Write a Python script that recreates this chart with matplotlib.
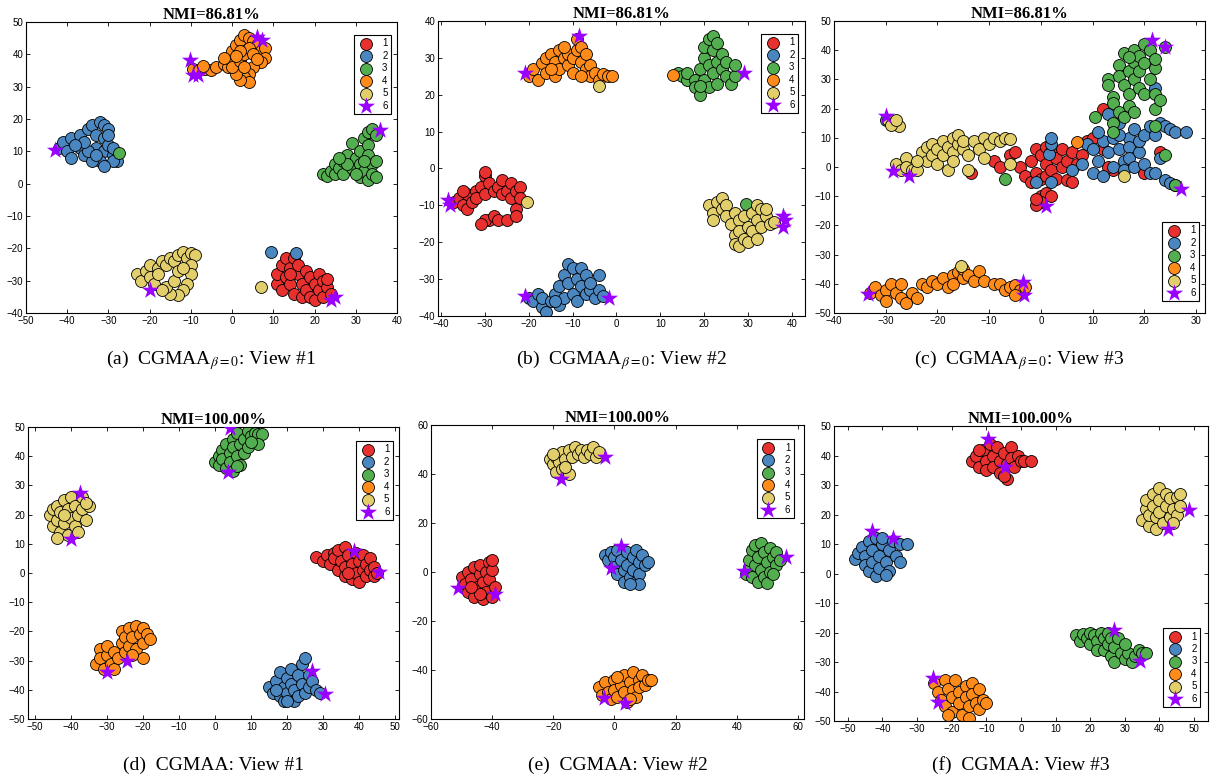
import matplotlib
matplotlib.use("Agg")
import matplotlib.pyplot as plt

# cluster colours (classes 1-5) and the star colour (class 6)
colors = ["#E8302F", "#4A86C0", "#52AE4E", "#FF8C1A", "#E2CF6B"]
star_color = "#9900FF"
class_names = ["1", "2", "3", "4", "5", "6"]

# ---- (a) CGMAA beta=0, view 1 ----
a1 = [(11,-31),(11,-28),(12,-25),(12,-33),(13,-23),(13,-29),(14,-26),(14,-31),(15,-23),(15,-34),
      (16,-28),(16,-25),(17,-31),(17,-35),(18,-27),(18,-33),(19,-29),(19,-35),(20,-31),(20,-36),
      (21,-28),(21,-33),(22,-30),(22,-35),(23,-32),(23,-29.5),(24,-34),(14,-28)]
a2 = [(-42,11),(-41,13),(-40,10),(-39,14),(-39,8),(-37,11),(-37,15),(-36,9),(-35,17),(-34,18),
      (-33,15),(-33,11),(-32,19),(-31,18),(-30,17),(-31,14),(-31,10),(-30,12),(-29,9),(-28,7),
      (-29,7),(-32,7),(-31,5.5),(-34,7),(-35,10),(-36,13),(-38,12),(-29,11),(-30,15),(-33,9),
      (9.5,-21),(15.5,-21.5)]
a3 = [(22,3),(23,2.5),(24,4),(25,6),(25,3),(26,5),(27,7),(27,3),(28,9),(29,12.5),(29,5),(30,8),
      (31,10),(31,6),(31,2),(32,14),(32,4),(33,16),(33,12),(33,9),(33,1),(34,17),(34,6),(34,3),
      (35,15),(35,7),(35,2),(30,3),(32,7),(28,6),(26,8),(-27.5,9.5)]
a4 = [(-9.5,35.5),(-8,35),(-6.5,35.5),(-5,35),(-7,36.5),(-4,36),(-2,37),(-1,36),(-1,39),(0,41),
      (1,43),(2,44.5),(3,46),(4,45),(5,44),(6,43),(7,41),(8,42),(8,39),(7,37.5),(5,36),(4,34),
      (3,33),(4,31.5),(2,32),(1,34),(0,36),(2,38),(3,40),(4,42),(5,40),(6,38.5),(2,41),(1,39.5),
      (3,36),(-2,39)]
a5 = [(-23,-28),(-22,-30),(-21,-27),(-20,-25),(-20,-29),(-19,-31),(-18,-26),(-17,-24),(-16,-25),
      (-15,-23),(-14,-24),(-13,-22),(-12,-21),(-11,-23),(-10,-21.5),(-9,-22),(-10,-25),(-10,-28),
      (-11,-31),(-12,-33),(-13,-34.5),(-15,-34),(-16,-32),(-14,-30),(-13,-27),(-12,-26),(-18,-28),
      (-17,-33),(7,-32)]
a6 = [(-43,10.5),(-10.2,38.2),(-9.4,33.5),(-8.2,33.5),(6,45.4),(7.3,44.5),(36,16.5),(-20,-33),
      (24,-36),(25,-35)]

# ---- (b) CGMAA beta=0, view 2 ----
b1 = [(-37,-9),(-36,-8),(-35,-10),(-34,-7),(-34,-11),(-33,-9),(-32,-6),(-32,-8),(-31,-5),(-30,-2),
      (-30,-1),(-30,-7),(-29,-4),(-29,-14),(-30,-14),(-28,-6),(-28,-13),(-27,-5),(-27,-14),(-26,-3),
      (-26,-7),(-25,-14),(-25,-6),(-24,-4),(-24,-8),(-23,-11),(-23,-6),(-22,-5),(-22,-8),(-31,-15),
      (-35,-6),(-23,-13)]
b2 = [(-20,-35),(-19,-36),(-18,-34),(-17,-37.5),(-17,-35),(-16,-39),(-15,-36),(-14,-34),(-13,-37),
      (-13,-32),(-12,-35),(-12,-29),(-11,-26),(-11,-31),(-10,-27),(-10,-34),(-9,-30),(-9,-36),
      (-8,-32),(-8,-27),(-7,-34),(-7,-29),(-6,-33),(-5,-35),(-4,-29),(-4,-33),(-3,-34.5),(-6,-31),
      (-14,-36)]
b3 = [(14,26),(15,25),(16,24),(16,26),(18,24),(18,22),(19,20),(19,27),(20,30),(20,33),
      (20,24),(21,35),(21,28),(21,22),(22,36),(22,32),(22,26),(23,34),(23,29),(23,23),(24,31),
      (24,27),(25,25),(25,29),(26,23),(27,25),(27,28),(19,22.5),(29.5,-9.5)]
b4 = [(-20,25),(-19,27),(-18,24),(-17,28.5),(-16,26),(-16,30),(-15,31),(-14,29),(-14,25),(-13,32),
      (-13,27),(-12,30),(-11,28),(-11,31),(-10,30),(-10,26),(-9,32),(-9,35),(-8,33),(-8,29),(-7,31),
      (-7,27),(-6,28),(-6,25),(-5,26),(-4,24),(-3,25.5),(-2,25),(-1,25),(-12,33),(-15,27),(-8,25),
      (13,25.3)]
b5 = [(21,-10),(22,-12),(22,-14),(23,-9),(24,-11),(24,-8),(25,-10),(25,-13),(26,-15),(27,-12),
      (27,-18),(27,-20.5),(28,-14),(28,-17),(28,-21),(29,-19),(29,-13),(30,-16),(30,-20),(31,-12),
      (31,-17),(32,-10),(32,-14),(33,-11),(33,-16),(34,-13),(35,-15),(36,-14.5),(32,-19),(34,-11),
      (-4,22.5),(-20.5,-9)]
b6 = [(-20.8,25.8),(-8.5,36),(29,26),(-38.5,-8.5),(-38,-10),(-20.8,-34.5),(-1.8,-35),(38,-13),
      (38.5,-14),(38,-16)]

# ---- (c) CGMAA beta=0, view 3 ----
c1 = [(-9,2),(-8,0),(-6,4),(-5,5),(-4,0),(-3,-3),(-2,-5),(-2,2),(-1,6),(-1,-2),(0,4),(0,-4),(1,7),
      (1,1),(1,-3),(2,-1),(2,5),(3,3),(3,-4),(4,0),(4,6),(5,2),(5,-4.5),(6,5),(6,-5),(7,1),(8,4),
      (9,9),(10,10),(12,6),(14,-1),(13,0),(-13.5,-2),(0,-10),(1,-9),(0,-12),(-1,-13),(2,-10),
      (-1,-11),(12,20),(20,-2),(23,5)]
c2 = [(-1,-5),(2,-5),(1.5,4.5),(2,8),(2,10),(6,-1),(8,1),(9,8),(10,-2),(10,6),(11,2),(12,-3),
      (12,9),(13,5),(13,18),(14,0),(14,10),(15,6),(15,15),(16,2),(16,-1),(17,10),(17,7),(17,3),
      (18,13),(18,0),(19,5),(19,9),(20,11),(20,1),(21,-2),(21,14),(22,-2),(22,11),(23,15),(24,14),
      (25,13),(26,12),(28,12),(23,3),(15,11),(11,12),(24,-4.5),(25,-5.5),(26,-6),(22,27),(-30,16)]
c3 = [(13,30),(14,24),(14,22),(14,15),(14,12),(15,19),(15,35),(15,31),(16,39),(16,17),(16,28),
      (17,33),(17,25),(17,21),(18,40),(18,36),(18,30),(18,19),(19,27),(19,38),(19,33),(20,42),
      (20,35.5),(20,25),(21,30),(21,40),(22,34),(22,20),(22,25),(23,23),(22,14),(13,28),(24,41),
      (17,37.5),(22,37),(24,4),(26,-6),(-7,-4),(10.5,17)]
c4 = [(-33,-43),(-32,-41),(-31,-44),(-30,-42),(-30,-46),(-29,-40),(-28,-43),(-27,-45),(-27,-40),
      (-26,-46.5),(-25,-43),(-24,-45),(-23,-40),(-22,-41),(-21,-39),(-20,-40),(-19,-38),(-18,-41),
      (-17,-37),(-17,-40),(-16,-36),(-15,-38),(-15,-35),(-14,-37),(-13,-39),(-12,-35.5),(-11,-39),
      (-9,-40),(-8,-40),(-7,-42),(-6,-41),(-5,-40.5),(-4,-42),(-5,-44),(-3,-41),(7,8.5)]
c5 = [(-29.5,16),(-28.5,15),(-27.5,14),(-29,14.5),(-28,16),(-28,1),(-27,-1),(-26,3),(-26,0),
      (-25,-1),(-24,-1),(-23,5),(-22,7),(-22,2),(-21,8),(-21,4),(-20,1),(-20,6),(-19,9),(-19,4),
      (-18,-1),(-18,7),(-17,10),(-17,5),(-17,2),(-16,8),(-16,11),(-15,6),(-15,9),(-14,4),(-14,-1),
      (-13,9),(-12,6),(-11,10),(-11,3),(-10,8),(-9,10),(-8,9),(-7,10),(-6,9.5),(-6,1),(-24,2),
      (-15.5,-34),(16,-3)]
c6 = [(-30,17.5),(-28.5,-1.5),(-25.5,-3),(1,-13.5),(21.5,43.5),(24,41),(27,-7.5),(-33.5,-43.5),
      (-3.5,-39.5),(-3.3,-44)]

# ---- (d) CGMAA, view 1 ----
d1 = [(28,5.5),(30,4),(31,6),(32,3),(33,7),(33,5),(34,1),(34,8),(35,4),(36,9),(36,2),(36,-1),
      (37,6),(38,3),(38,-2),(39,7),(39,0),(40,4),(40,-3),(41,6),(41,1),(42,3),(42,-1),(43,5),(43,1),
      (44,2),(44,-1),(45,0),(37,0)]
d2 = [(15,-39),(16,-41),(17,-37),(18,-42),(18,-34),(19,-39),(19,-44),(20,-36),(20,-41),(21,-33),
      (21,-38),(22,-44),(22,-40),(23,-35),(23,-42),(24,-31),(24,-38),(25,-29),(25,-41),(26,-35),
      (26,-39),(27,-37),(28,-40),(29,-41),(20,-44),(17,-40)]
d3 = [(0,38),(1,40),(1,37),(2,42),(2,39),(3,44),(3,36),(4,41),(4,38),(5,46),(5,35),(5,43),(6,40),
      (6,48),(7,44),(7,37),(8,46),(8,41),(9,48.5),(9,43),(10,47),(11,48),(12,47.5),(13,47.5),
      (12,44),(10,45),(6,36.5)]
d4 = [(-33,-31),(-32,-26),(-32,-29),(-31,-33),(-30,-28),(-30,-25),(-29,-31),(-28,-27),(-28,-33),
      (-27,-29),(-26,-24),(-26,-20),(-25,-27),(-25,-22),(-24,-19),(-24,-25),(-23,-22),(-22,-18),
      (-22,-26),(-21,-21),(-20,-19),(-20,-24),(-19,-21),(-18,-22.5),(-20,-29),(-23,-28)]
d5 = [(-46,20),(-45,22),(-45,16),(-44,23),(-44,18),(-43,14),(-43,21),(-42,25),(-42,17),(-41,22),
      (-41,13),(-40,26),(-40,19),(-39,23),(-39,16),(-38,20),(-38,14),(-37,26),(-37,22),(-36,18),
      (-35,23),(-36,24),(-44,12),(-42,20)]
d6 = [(4,49.5),(3.5,34.5),(-37.5,27.5),(-40,11.5),(38.5,7.5),(45.5,0.5),(-24.5,-30),(-30,-34),
      (27,-33.5),(30.5,-41.5)]

# ---- (e) CGMAA, view 2 ----
e1 = [(-50,-2),(-49,-5),(-48,0),(-48,-8),(-47,-3),(-46,2),(-46,-10),(-45,-6),(-44,-1),(-44,3),
      (-43,-11),(-43,-4),(-42,0),(-42,-8),(-41,4),(-41,-3),(-40,-10),(-40,1),(-39,-6),(-40,5),
      (-44,-9),(-47,-6)]
e2 = [(-3,7),(-2,5),(-1,8),(0,6),(0,2),(1,9),(1,-1),(2,5),(3,1),(3,-4),(4,8),(4,3),(5,-2),(6,6),
      (6,1),(7,9),(7,-4),(8,4),(8,-1),(9,7),(10,3),(11,4),(8,-5),(5,-5)]
e3 = [(43,-1),(44,2),(44,5),(45,9),(45,-2),(46,11),(46,3),(47,6),(47,-4),(48,12),(48,1),(49,8),
      (49,-2),(50,4),(50,-4.5),(51,10),(51,0),(52,6),(53,3),(53,8),(54,5),(52,-1)]
e4 = [(-5,-47),(-4,-50),(-3,-45),(-2,-49),(-1,-52),(0,-44),(0,-48),(1,-51),(2,-46),(3,-42),(3,-49),
      (4,-53),(5,-45),(6,-41),(6,-48),(7,-51),(8,-44),(8,-47),(9,-42),(10,-46),(11,-44),(12,-44),
      (5,-52),(1,-43)]
e5 = [(-21,46),(-20,44),(-19,47),(-19,41),(-18,45),(-17,49),(-17,42),(-16,46),(-15,50),(-15,40),
      (-14,47),(-13,51),(-12,48),(-11,50),(-10,47),(-9,50),(-8,48),(-7,51),(-6,47),(-5,49),(-20,48),
      (-16,43)]
e6 = [(-3,47),(-17.5,38),(-51,-6.5),(-39,-9),(2,10.5),(-1,1.5),(42.5,0.5),(56,6),(-3.5,-51.5),
      (3.5,-53.5)]

# ---- (f) CGMAA, view 3 ----
f1 = [(-14,38),(-13,40),(-12,36),(-11,42),(-10,38),(-10,35),(-9,44),(-8,40),(-8,36),(-7,43),(-6,38),
      (-6,34),(-5,41),(-4,37),(-4,32),(-3,43),(-3,39),(-2,36),(-1,40),(0,38),(1,38),(3,38),(-5,33),
      (-12,42)]
f2 = [(-48,5),(-47,7),(-46,9),(-45,6),(-45,3),(-44,11),(-44,1),(-43,8),(-43,4),(-42,12),(-42,-1),
      (-41,6),(-41,2),(-40,10),(-40,12),(-39,4),(-38,8),(-38,1),(-37,11),(-36,6),(-35,10),(-35,4),
      (-33,10),(-39,-0.5)]
f3 = [(16,-21),(17,-23),(18,-20.5),(19,-22),(20,-24),(20,-20),(21,-21),(22,-23),(22,-26),(23,-20),
      (24,-22),(24,-26),(25,-24),(25,-20),(26,-28),(26,-22),(27,-25),(27,-30),(28,-22),(29,-27),
      (30,-29),(31,-27),(32,-30),(33,-28),(34,-26),(35,-27),(36,-27),(30,-24)]
f4 = [(-25,-37),(-24,-40),(-23,-43),(-22,-36),(-22,-45),(-21,-39),(-20,-42),(-20,-47),(-19,-36),
      (-18,-40),(-18,-44),(-17,-48),(-16,-38),(-16,-42),(-15,-45),(-15,-49),(-14,-37),(-14,-41),
      (-13,-44),(-12,-39),(-12,-46),(-11,-43),(-10,-44),(-21,-48)]
f5 = [(35,18),(36,22),(36,25),(37,16),(37,20),(38,27),(38,23),(39,19),(39,15),(40,29),(40,25),
      (40,21),(41,17),(42,27),(42,23),(43,19),(43,25.5),(44,22),(45,26),(45,20),(46,23),(46,27),
      (44,17)]
f6 = [(-9.5,45.5),(-4.5,36),(-43,14.5),(-37,12),(48.5,21.5),(42.5,15),(27,-19),(34.5,-29.5),
      (-25.5,-35.5),(-24,-43.5)]

titles = ["NMI=86.81%"] * 3 + ["NMI=100.00%"] * 3
captions = [r"(a)  CGMAA$_{\beta=0}$: View #1", r"(b)  CGMAA$_{\beta=0}$: View #2",
            r"(c)  CGMAA$_{\beta=0}$: View #3", "(d)  CGMAA: View #1",
            "(e)  CGMAA: View #2", "(f)  CGMAA: View #3"]
xlims = [(-50, 40), (-40.7, 43), (-40, 31.7), (-52, 51), (-60, 62), (-54, 54)]
ylims = [(-40, 50), (-40, 40), (-50, 50), (-50, 50), (-60, 60), (-50, 50)]
xticks = [range(-50, 41, 10), range(-40, 41, 10), range(-40, 31, 10),
          range(-50, 51, 10), range(-60, 61, 20), range(-50, 51, 10)]
yticks = [range(-40, 51, 10), range(-40, 41, 10), range(-50, 51, 10),
          range(-50, 51, 10), range(-60, 61, 20), range(-50, 51, 10)]

boxes = [(0.0214, 0.5987, 0.3053, 0.3731), (0.3605, 0.5949, 0.3021, 0.3782),
         (0.6864, 0.5987, 0.3053, 0.3744), (0.0230, 0.0782, 0.3053, 0.3744),
         (0.3547, 0.0782, 0.3070, 0.3769), (0.6864, 0.0756, 0.3078, 0.3782)]
legend_locs = [("upper right", (0.984, 0.955)), ("upper right", (0.981, 0.956)),
               ("lower right", (0.984, 0.041)), ("upper right", (0.984, 0.952)),
               ("upper right", (0.973, 0.952)), ("lower right", (0.979, 0.047))]

panels = [(a1, a2, a3, a4, a5, a6), (b1, b2, b3, b4, b5, b6), (c1, c2, c3, c4, c5, c6),
          (d1, d2, d3, d4, d5, d6), (e1, e2, e3, e4, e5, e6), (f1, f2, f3, f4, f5, f6)]

plt.rcParams["mathtext.fontset"] = "stix"
fig = plt.figure(figsize=(12.15, 7.8), dpi=100)

for i, groups in enumerate(panels):
    ax = fig.add_axes(boxes[i])
    for k in range(5):
        xs = [p[0] for p in groups[k]]
        ys = [p[1] for p in groups[k]]
        ax.scatter(xs, ys, s=74, c=colors[k], edgecolors="black", linewidths=0.6,
                   label=class_names[k], zorder=2)
    xs = [p[0] for p in groups[5]]
    ys = [p[1] for p in groups[5]]
    ax.scatter(xs, ys, s=170, c=star_color, marker="*", linewidths=0,
               label=class_names[5], zorder=3)

    ax.set_xlim(xlims[i])
    ax.set_ylim(ylims[i])
    ax.set_xticks(list(xticks[i]))
    ax.set_yticks(list(yticks[i]))
    ax.tick_params(direction="in", length=3, width=0.6, labelsize=7,
                   top=True, right=True, pad=2)
    for lab in ax.get_xticklabels() + ax.get_yticklabels():
        lab.set_family("Liberation Sans")
    for sp in ax.spines.values():
        sp.set_linewidth(0.8)
    ax.set_title(titles[i], fontsize=12, fontweight="bold", family="Liberation Serif", pad=2)

    loc, anchor = legend_locs[i]
    leg = ax.legend(loc=loc, bbox_to_anchor=anchor, borderaxespad=0, fontsize=7,
                    scatterpoints=1, fancybox=False, edgecolor="black", framealpha=1,
                    labelspacing=0.25, handletextpad=0.9, borderpad=0.35,
                    handlelength=1.6, markerfirst=True)
    leg.get_frame().set_linewidth(0.8)
    for t in leg.get_texts():
        t.set_family("Liberation Sans")

    x0, y0, w, h = boxes[i]
    cy = 0.538 if i < 3 else 0.019
    fig.text(x0 + w / 2, cy, captions[i], ha="center", va="center", fontsize=14,
             family="Liberation Serif")

fig.savefig("out.png", dpi=100)
